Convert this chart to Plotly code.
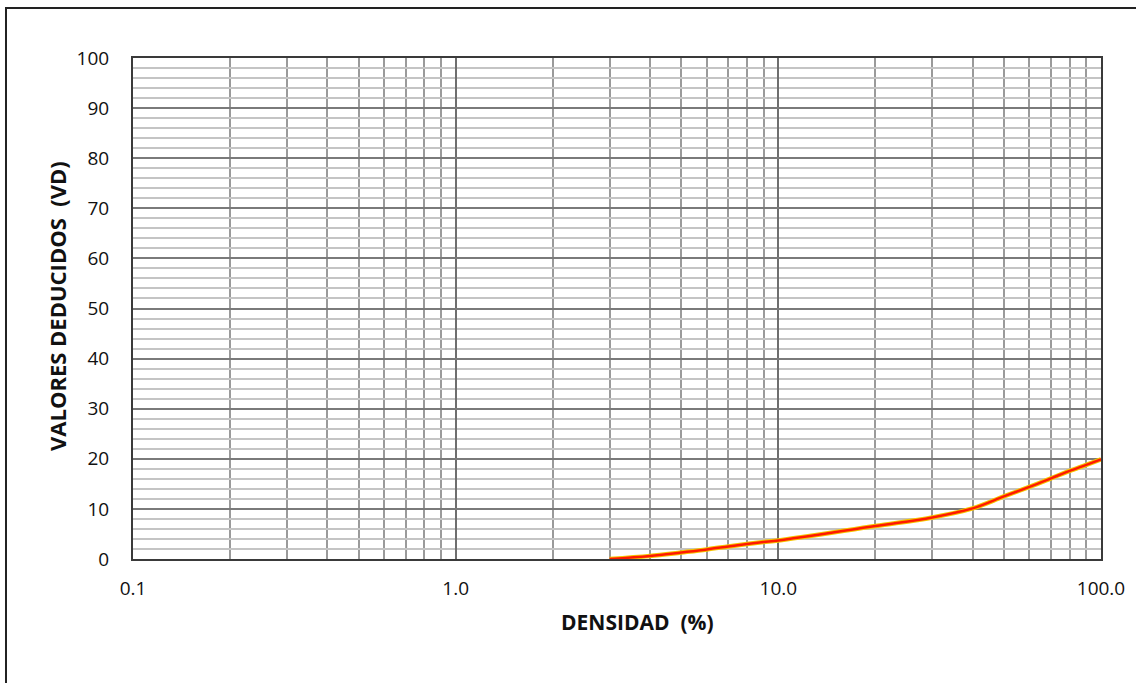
import plotly.graph_objects as go

# curve
densidad = [3, 4, 5, 6, 7, 8, 9, 10, 20, 30, 40, 50, 60, 70, 80, 90, 100]
valores_deducidos = [0.0, 0.6, 1.3, 1.9, 2.5, 3.0, 3.4, 3.7, 6.6, 8.3, 10.1, 12.5, 14.4, 16.1, 17.6, 18.8, 19.9]

x_tickvals = [0.1, 1, 10, 100]
x_ticktext = ["0.1", "1.0", "10.0", "100.0"]
y_tickvals = list(range(0, 101, 10))

fig = go.Figure()

# yellow halo under the red line
fig.add_trace(go.Scatter(x=densidad, y=valores_deducidos, mode="lines",
                         line=dict(color="#f5c400", width=4.5, shape="spline"),
                         hoverinfo="skip", showlegend=False))
fig.add_trace(go.Scatter(x=densidad, y=valores_deducidos, mode="lines",
                         line=dict(color="#ff1a00", width=2.5, shape="spline"),
                         showlegend=False))

font_main = "Open Sans, Arial, sans-serif"

fig.update_xaxes(
    type="log", range=[-1, 2],
    tickvals=x_tickvals, ticktext=x_ticktext,
    showgrid=True, gridcolor="#6e6e6e", gridwidth=2,
    minor=dict(dtick="D1", showgrid=True, gridcolor="#9a9a9a", gridwidth=2, ticks=""),
    showline=True, linecolor="#3a3a3a", linewidth=2, mirror=True,
    ticks="outside", ticklen=11, tickcolor="rgba(0,0,0,0)", zeroline=False,
    tickfont=dict(family=font_main, size=19, color="#111"),
)
fig.update_yaxes(
    range=[0, 100], tickvals=y_tickvals,
    showgrid=True, gridcolor="#7a7a7a", gridwidth=2,
    minor=dict(dtick=2, showgrid=True, gridcolor="#c4c4c4", gridwidth=2, ticks=""),
    showline=True, linecolor="#3a3a3a", linewidth=2, mirror=True,
    ticks="outside", ticklen=18, tickcolor="rgba(0,0,0,0)", zeroline=False,
    tickfont=dict(family=font_main, size=19, color="#111"),
)

# axis titles as annotations so they can sit where the original puts them
fig.add_annotation(text="<b>DENSIDAD  (%)</b>", xref="paper", yref="paper",
                   x=0.5207, y=-0.126, xanchor="center", yanchor="middle", showarrow=False,
                   font=dict(family=font_main, size=21, color="#111"))
fig.add_annotation(text="<b>VALORES DEDUCIDOS  (VD)</b>", xref="paper", yref="paper",
                   x=-0.0785, y=0.505, xanchor="center", yanchor="middle",
                   textangle=-90, showarrow=False,
                   font=dict(family=font_main, size=22, color="#111"))

# outer frame of the original picture (cut at right and bottom)
fig.add_shape(type="rect", xref="paper", yref="paper",
              x0=-0.1312, x1=1.08, y0=-0.27, y1=1.0998,
              line=dict(color="#222", width=2), fillcolor="rgba(0,0,0,0)", layer="above")

fig.update_layout(
    width=1136, height=683,
    margin=dict(l=133, r=35, t=58, b=124),
    plot_bgcolor="white", paper_bgcolor="white",
    showlegend=False,
)

fig.write_html("out.html", config={"displayModeBar": False},
               post_script="document.body.style.margin='0';")
